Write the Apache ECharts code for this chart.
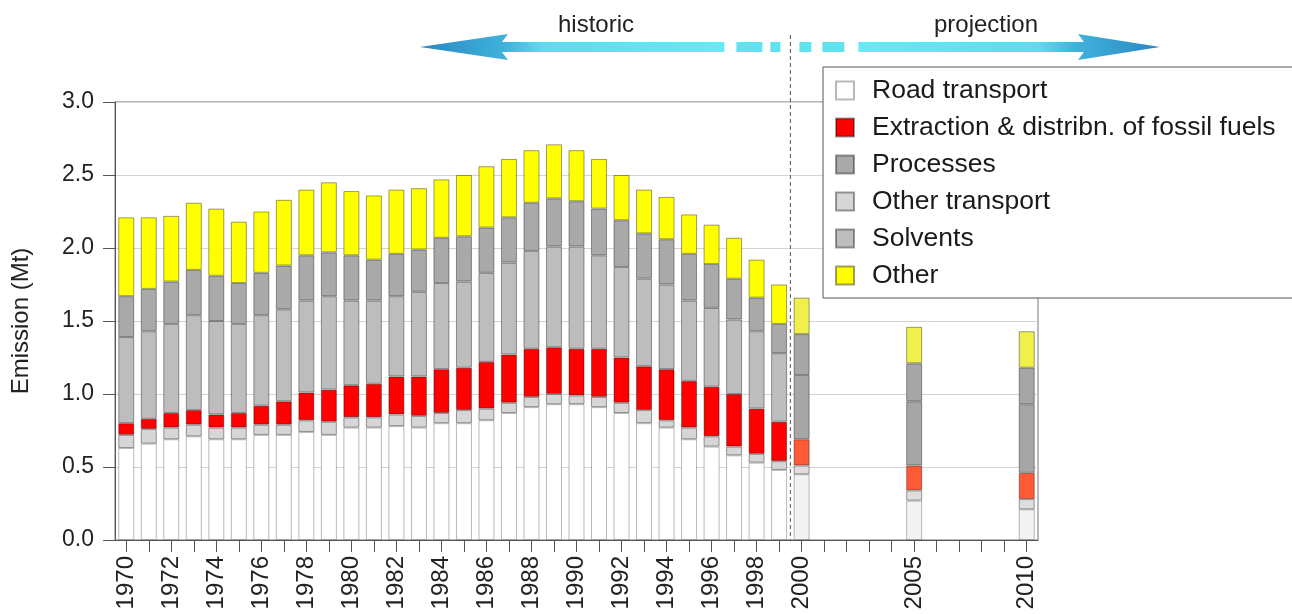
<!DOCTYPE html>
<html><head><meta charset="utf-8">
<script src="https://cdn.jsdelivr.net/npm/echarts@6/dist/echarts.min.js"></script>
<style>html,body{margin:0;padding:0;background:#fff}#c{width:1292px;height:614px}</style>
</head><body><div id="c"></div>
<script>
// x-axis categories (every year, ticks on each)
const categories = ['1970','1971','1972','1973','1974','1975','1976','1977','1978','1979',
  '1980','1981','1982','1983','1984','1985','1986','1987','1988','1989',
  '1990','1991','1992','1993','1994','1995','1996','1997','1998','1999',
  '2000','2001','2002','2003','2004','2005','2006','2007','2008','2009','2010'];
// years that carry a bar
const dataYears = ['1970','1971','1972','1973','1974','1975','1976','1977','1978','1979',
  '1980','1981','1982','1983','1984','1985','1986','1987','1988','1989',
  '1990','1991','1992','1993','1994','1995','1996','1997','1998','1999',
  '2000','2005','2010'];
const projectionYears = ['2000','2005','2010'];
const labelledYears = ['1970','1972','1974','1976','1978','1980','1982','1984','1986','1988',
  '1990','1992','1994','1996','1998','2000','2005','2010'];
const yTicks = [0, 0.5, 1.0, 1.5, 2.0, 2.5, 3.0];

// emissions (Mt), stacked bottom to top
const roadTransport = [0.63,0.66,0.69,0.71,0.69,0.69,0.72,0.72,0.74,0.72,
  0.77,0.77,0.78,0.77,0.80,0.80,0.82,0.87,0.91,0.93,
  0.93,0.91,0.87,0.80,0.77,0.69,0.64,0.58,0.53,0.48,
  0.45,0.27,0.21];
const otherTransport = [0.09,0.10,0.08,0.08,0.08,0.08,0.07,0.07,0.08,0.09,
  0.07,0.07,0.08,0.08,0.07,0.09,0.08,0.07,0.07,0.07,
  0.06,0.07,0.07,0.09,0.05,0.08,0.07,0.06,0.06,0.06,
  0.06,0.07,0.07];
const extraction = [0.08,0.07,0.10,0.10,0.09,0.10,0.13,0.16,0.19,0.22,
  0.22,0.23,0.26,0.27,0.30,0.29,0.32,0.33,0.33,0.32,
  0.32,0.33,0.31,0.30,0.35,0.32,0.34,0.36,0.31,0.27,
  0.18,0.17,0.18];
const solvents = [0.59,0.60,0.61,0.65,0.64,0.61,0.62,0.63,0.63,0.64,
  0.58,0.57,0.55,0.58,0.59,0.59,0.61,0.63,0.67,0.69,
  0.70,0.64,0.62,0.60,0.58,0.55,0.54,0.51,0.53,0.47,
  0.44,0.44,0.47];
const processes = [0.28,0.29,0.29,0.31,0.31,0.28,0.29,0.30,0.31,0.30,
  0.31,0.28,0.29,0.29,0.31,0.31,0.31,0.31,0.33,0.33,
  0.31,0.32,0.32,0.31,0.31,0.32,0.30,0.28,0.23,0.20,
  0.28,0.26,0.25];
const other = [0.54,0.49,0.45,0.46,0.46,0.42,0.42,0.45,0.45,0.48,
  0.44,0.44,0.44,0.42,0.40,0.42,0.42,0.40,0.36,0.37,
  0.35,0.34,0.31,0.30,0.29,0.27,0.27,0.28,0.26,0.27,
  0.25,0.25,0.25];

const FONT = '"Liberation Sans", Arial, Helvetica, sans-serif';
const BORDER = 'rgba(0,0,0,0.38)';

function build(values, projColor) {
  return categories.map(function (y) {
    const i = dataYears.indexOf(y);
    if (i < 0) return '-';
    if (projectionYears.indexOf(y) >= 0) return { value: values[i], itemStyle: { color: projColor } };
    return values[i];
  });
}
function series(name, values, color, projColor, border) {
  return {
    name: name, type: 'bar', stack: 'total', barWidth: 16,
    data: build(values, projColor),
    itemStyle: { color: color, borderColor: border || BORDER, borderWidth: 1 },
    emphasis: { disabled: true }, silent: true
  };
}

const chart = echarts.init(document.getElementById('c'), null, { renderer: 'canvas' });
chart.setOption({
  animation: false,
  backgroundColor: '#fff',
  textStyle: { fontFamily: FONT },
  grid: { left: 115, top: 102, width: 923, height: 438, show: true, borderColor: '#777', borderWidth: 1, containLabel: false },
  legend: {
    left: 823, top: 67, orient: 'vertical',
    data: ['Road transport', 'Extraction & distribn. of fossil fuels', 'Processes', 'Other transport', 'Solvents', 'Other'],
    backgroundColor: '#fff', borderColor: '#555', borderWidth: 1, borderRadius: 0,
    padding: [10, 30, 9, 12], itemWidth: 18, itemHeight: 18, itemGap: 10, icon: 'rect',
    selectedMode: false,
    textStyle: { fontSize: 26.5, color: '#1a1a1a', fontFamily: FONT, padding: [0, 0, 0, 13] }
  },
  xAxis: {
    type: 'category', data: categories, boundaryGap: true,
    axisLine: { show: true, lineStyle: { color: '#555' } },
    axisTick: { show: true, alignWithLabel: true, interval: 0, length: 12, lineStyle: { color: '#555' } },
    axisLabel: {
      rotate: 90, margin: 16, fontSize: 24, color: '#222', fontFamily: FONT,
      interval: function (i, v) { return labelledYears.indexOf(v) >= 0; }
    },
    splitLine: { show: false }
  },
  yAxis: {
    type: 'value', min: yTicks[0], max: yTicks[yTicks.length - 1], interval: 0.5,
    name: 'Emission (Mt)', nameLocation: 'middle', nameGap: 82, nameRotate: 90,
    nameTextStyle: { fontSize: 24, color: '#222', fontFamily: FONT },
    axisLine: { show: true, lineStyle: { color: '#555' } },
    axisTick: { show: true, length: 12, lineStyle: { color: '#555' } },
    axisLabel: { fontSize: 23, color: '#222', margin: 21, fontFamily: FONT, formatter: function (v) { return v.toFixed(1); } },
    splitLine: { show: true, lineStyle: { color: '#d4d4d4', width: 1 } }
  },
  series: [
    series('Road transport', roadTransport, '#ffffff', '#f3f3f3', 'rgba(0,0,0,0.28)'),
    series('Other transport', otherTransport, '#d6d6d6', '#dedede'),
    series('Extraction & distribn. of fossil fuels', extraction, '#ff0000', '#ff5a36'),
    series('Solvents', solvents, '#bdbdbd', '#a6a6a6'),
    series('Processes', processes, '#a9a9a9', '#a6a6a6'),
    series('Other', other, '#ffff00', '#f0f04c')
  ]
});

// annotations: dashed divider and historic/projection arrows
const xa = chart.convertToPixel({ xAxisIndex: 0 }, '1999');
const xb = chart.convertToPixel({ xAxisIndex: 0 }, '2000');
const xd = (xa + xb) / 2;
const yBase = chart.convertToPixel({ yAxisIndex: 0 }, 0);
const cy = 47;
const leftGrad = new echarts.graphic.LinearGradient(0, 0, 1, 0, [
  { offset: 0, color: '#2a86c0' }, { offset: 0.28, color: '#3fb3dc' }, { offset: 0.4, color: '#5cdced' }, { offset: 1, color: '#66eaf3' }]);
const rightGrad = new echarts.graphic.LinearGradient(0, 0, 1, 0, [
  { offset: 0, color: '#66eaf3' }, { offset: 0.6, color: '#5cdced' }, { offset: 0.72, color: '#3fb3dc' }, { offset: 1, color: '#2a86c0' }]);
const dashColor = '#5fe3ee';
const L0 = 420, L1 = xd - 66, R0 = xd + 68, R1 = 1160;
chart.setOption({
  graphic: [
    { type: 'polygon', silent: true, z: 10,
      shape: { points: [[L0, cy], [L0 + 88, cy - 13], [L0 + 82, cy - 5], [L1, cy - 5], [L1, cy + 5], [L0 + 82, cy + 5], [L0 + 88, cy + 13]] },
      style: { fill: leftGrad } },
    { type: 'polygon', silent: true, z: 10,
      shape: { points: [[R1, cy], [R1 - 82, cy - 13], [R1 - 76, cy - 5], [R0, cy - 5], [R0, cy + 5], [R1 - 76, cy + 5], [R1 - 82, cy + 13]] },
      style: { fill: rightGrad } },
    { type: 'rect', silent: true, z: 10, shape: { x: xd - 54, y: cy - 5, width: 26, height: 10 }, style: { fill: dashColor } },
    { type: 'rect', silent: true, z: 10, shape: { x: xd - 20, y: cy - 5, width: 10, height: 10 }, style: { fill: dashColor } },
    { type: 'rect', silent: true, z: 10, shape: { x: xd + 9, y: cy - 5, width: 12, height: 10 }, style: { fill: dashColor } },
    { type: 'rect', silent: true, z: 10, shape: { x: xd + 32, y: cy - 5, width: 22, height: 10 }, style: { fill: dashColor } },
    { type: 'line', silent: true, z: 11, shape: { x1: xd, y1: 35, x2: xd, y2: yBase },
      style: { stroke: '#555', lineWidth: 1, lineDash: [4, 3] } },
    { type: 'text', silent: true, z: 12, x: 596, y: 25,
      style: { text: 'historic', fontSize: 24, fontFamily: FONT, fill: '#222', align: 'center', verticalAlign: 'middle' } },
    { type: 'text', silent: true, z: 12, x: 986, y: 25,
      style: { text: 'projection', fontSize: 24, fontFamily: FONT, fill: '#222', align: 'center', verticalAlign: 'middle' } }
  ]
});
</script>
</body></html>
